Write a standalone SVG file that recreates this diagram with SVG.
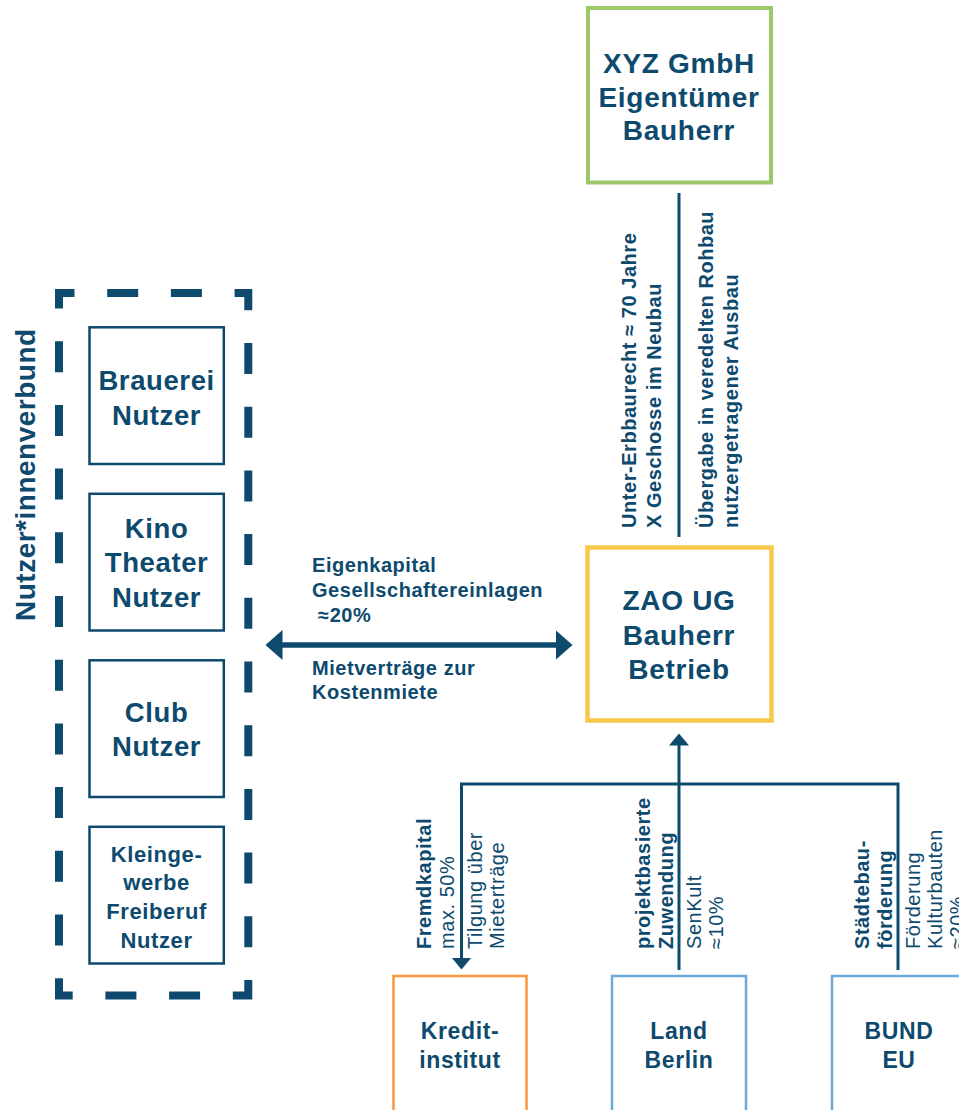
<svg xmlns="http://www.w3.org/2000/svg" width="959" height="1110" viewBox="0 0 959 1110">
<style>
.t{font-family:"Liberation Sans",Arial,sans-serif;fill:#0d4a6e}
.b{font-weight:bold}
.c{text-anchor:middle}
.big{font-size:28px;letter-spacing:0.7px}
.mid{font-size:27.5px;letter-spacing:0.6px}
.sm{font-size:22px;letter-spacing:0.6px}
.bot{font-size:23px;letter-spacing:0.6px}
.lbl{font-size:20px;letter-spacing:0.55px}
.box{fill:#fff;stroke:#0d4a6e;stroke-width:2.5}
.ln{fill:none;stroke:#0d4a6e;stroke-width:3}
</style>
<defs>
<marker id="ah" markerUnits="userSpaceOnUse" markerWidth="12" markerHeight="20" viewBox="0 0 12 20" refX="0.5" refY="10" orient="auto"><path d="M0,0 L12,10 L0,20 Z" fill="#0d4a6e"/></marker>
<marker id="ahBig" markerUnits="userSpaceOnUse" markerWidth="17" markerHeight="30" viewBox="0 0 17 30" refX="0.5" refY="15" orient="auto-start-reverse"><path d="M0,0 L17,15 L0,30 Z" fill="#0d4a6e"/></marker>
</defs>
<rect width="959" height="1110" fill="#fff"/>

<g id="connectors">
<line class="ln" x1="679" y1="193" x2="679" y2="537"/>
<line x1="282" y1="645" x2="556" y2="645" stroke="#0d4a6e" stroke-width="5.5" marker-start="url(#ahBig)" marker-end="url(#ahBig)"/>
<path class="ln" d="M898,970 V784 H461.5 V958" marker-end="url(#ah)"/>
<path class="ln" d="M679,970 V745" marker-end="url(#ah)"/>
</g>

<g id="label-erbbau">
<text class="t b lbl" transform="translate(636,528) rotate(-90)"><tspan x="0" y="0">Unter-Erbbaurecht ≈ 70 Jahre</tspan><tspan x="0" y="25">X Geschosse im Neubau</tspan></text>
<text class="t b lbl" transform="translate(713,528) rotate(-90)"><tspan x="0" y="0">Übergabe in veredelten Rohbau</tspan><tspan x="0" y="25">nutzergetragener Ausbau</tspan></text>
</g>

<g id="label-eigenkapital">
<text class="t b lbl" x="312" y="572">Eigenkapital</text>
<text class="t b lbl" x="312" y="597">Gesellschaftereinlagen</text>
<text class="t b lbl" x="312" y="622" xml:space="preserve"> ≈20%</text>
<text class="t b lbl" x="312" y="675">Mietverträge zur</text>
<text class="t b lbl" x="312" y="699">Kostenmiete</text>
</g>

<g id="label-fremdkapital">
<text class="t lbl" transform="translate(431,949) rotate(-90)"><tspan class="b" x="0" y="0">Fremdkapital</tspan><tspan x="0" y="23">max. 50%</tspan><tspan x="0" y="51">Tilgung über</tspan><tspan x="0" y="73">Mieterträge</tspan></text>
</g>
<g id="label-zuwendung">
<text class="t lbl" transform="translate(650,949) rotate(-90)"><tspan class="b" x="0" y="0">projektbasierte</tspan><tspan class="b" x="0" y="23">Zuwendung</tspan><tspan x="0" y="51">SenKult</tspan><tspan x="0" y="73">≈10%</tspan></text>
</g>
<g id="label-staedtebau">
<text class="t lbl" transform="translate(869,949) rotate(-90)"><tspan class="b" x="0" y="0">Städtebau-</tspan><tspan class="b" x="0" y="23">förderung</tspan><tspan x="0" y="51">Förderung</tspan><tspan x="0" y="73">Kulturbauten</tspan><tspan x="0" y="95">≈20%</tspan></text>
</g>

<g id="xyz">
<rect x="588" y="8" width="183" height="174.5" fill="#fff" stroke="#9cc86a" stroke-width="4"/>
<text class="t b c big" x="679" y="73">XYZ GmbH</text>
<text class="t b c big" x="679" y="106.5">Eigentümer</text>
<text class="t b c big" x="679" y="140">Bauherr</text>
</g>

<g id="zao">
<rect x="587.5" y="547.5" width="184" height="173" fill="#fff" stroke="#f8c84a" stroke-width="4.5"/>
<text class="t b c big" x="679" y="610">ZAO UG</text>
<text class="t b c big" x="679" y="644.5">Bauherr</text>
<text class="t b c big" x="679" y="679">Betrieb</text>
</g>

<g id="nutzerverbund">
<path d="M90.8,293 H248.3 V995.5 H59 V293 Z" fill="none" stroke="#0d4a6e" stroke-width="8" stroke-dasharray="31 32.7" stroke-dashoffset="47.3"/>
<text class="t b" font-size="28" letter-spacing="0.5" transform="translate(35,621) rotate(-90)">Nutzer*innenverbund</text>
</g>

<g id="brauerei">
<rect class="box" x="89.5" y="327.3" width="134.3" height="136.7"/>
<text class="t b c mid" x="156.6" y="390">Brauerei</text>
<text class="t b c mid" x="156.6" y="424.5">Nutzer</text>
</g>

<g id="kino">
<rect class="box" x="89.5" y="493.8" width="134.3" height="136.7"/>
<text class="t b c mid" x="156.6" y="537.5">Kino</text>
<text class="t b c mid" x="156.6" y="572">Theater</text>
<text class="t b c mid" x="156.6" y="606.5">Nutzer</text>
</g>

<g id="club">
<rect class="box" x="89.5" y="660.3" width="134.3" height="136.7"/>
<text class="t b c mid" x="156.6" y="721.5">Club</text>
<text class="t b c mid" x="156.6" y="756">Nutzer</text>
</g>

<g id="kleingewerbe">
<rect class="box" x="89.5" y="826.8" width="134.3" height="136.7"/>
<text class="t b c sm" x="156.6" y="861.5">Kleinge-</text>
<text class="t b c sm" x="156.6" y="890">werbe</text>
<text class="t b c sm" x="156.6" y="918.5">Freiberuf</text>
<text class="t b c sm" x="156.6" y="947.5">Nutzer</text>
</g>

<g id="kreditinstitut">
<rect x="393.5" y="976" width="133" height="150" fill="#fff" stroke="#f7983a" stroke-width="2.5"/>
<text class="t b c bot" x="460" y="1039">Kredit-</text>
<text class="t b c bot" x="460" y="1068">institut</text>
</g>

<g id="land-berlin">
<rect x="612" y="976" width="134" height="150" fill="#fff" stroke="#6eaad9" stroke-width="2.5"/>
<text class="t b c bot" x="679" y="1039">Land</text>
<text class="t b c bot" x="679" y="1068">Berlin</text>
</g>

<g id="bund-eu">
<rect x="832" y="976" width="134" height="150" fill="#fff" stroke="#6eaad9" stroke-width="2.5"/>
<text class="t b c bot" x="899" y="1039">BUND</text>
<text class="t b c bot" x="899" y="1068">EU</text>
</g>
</svg>
